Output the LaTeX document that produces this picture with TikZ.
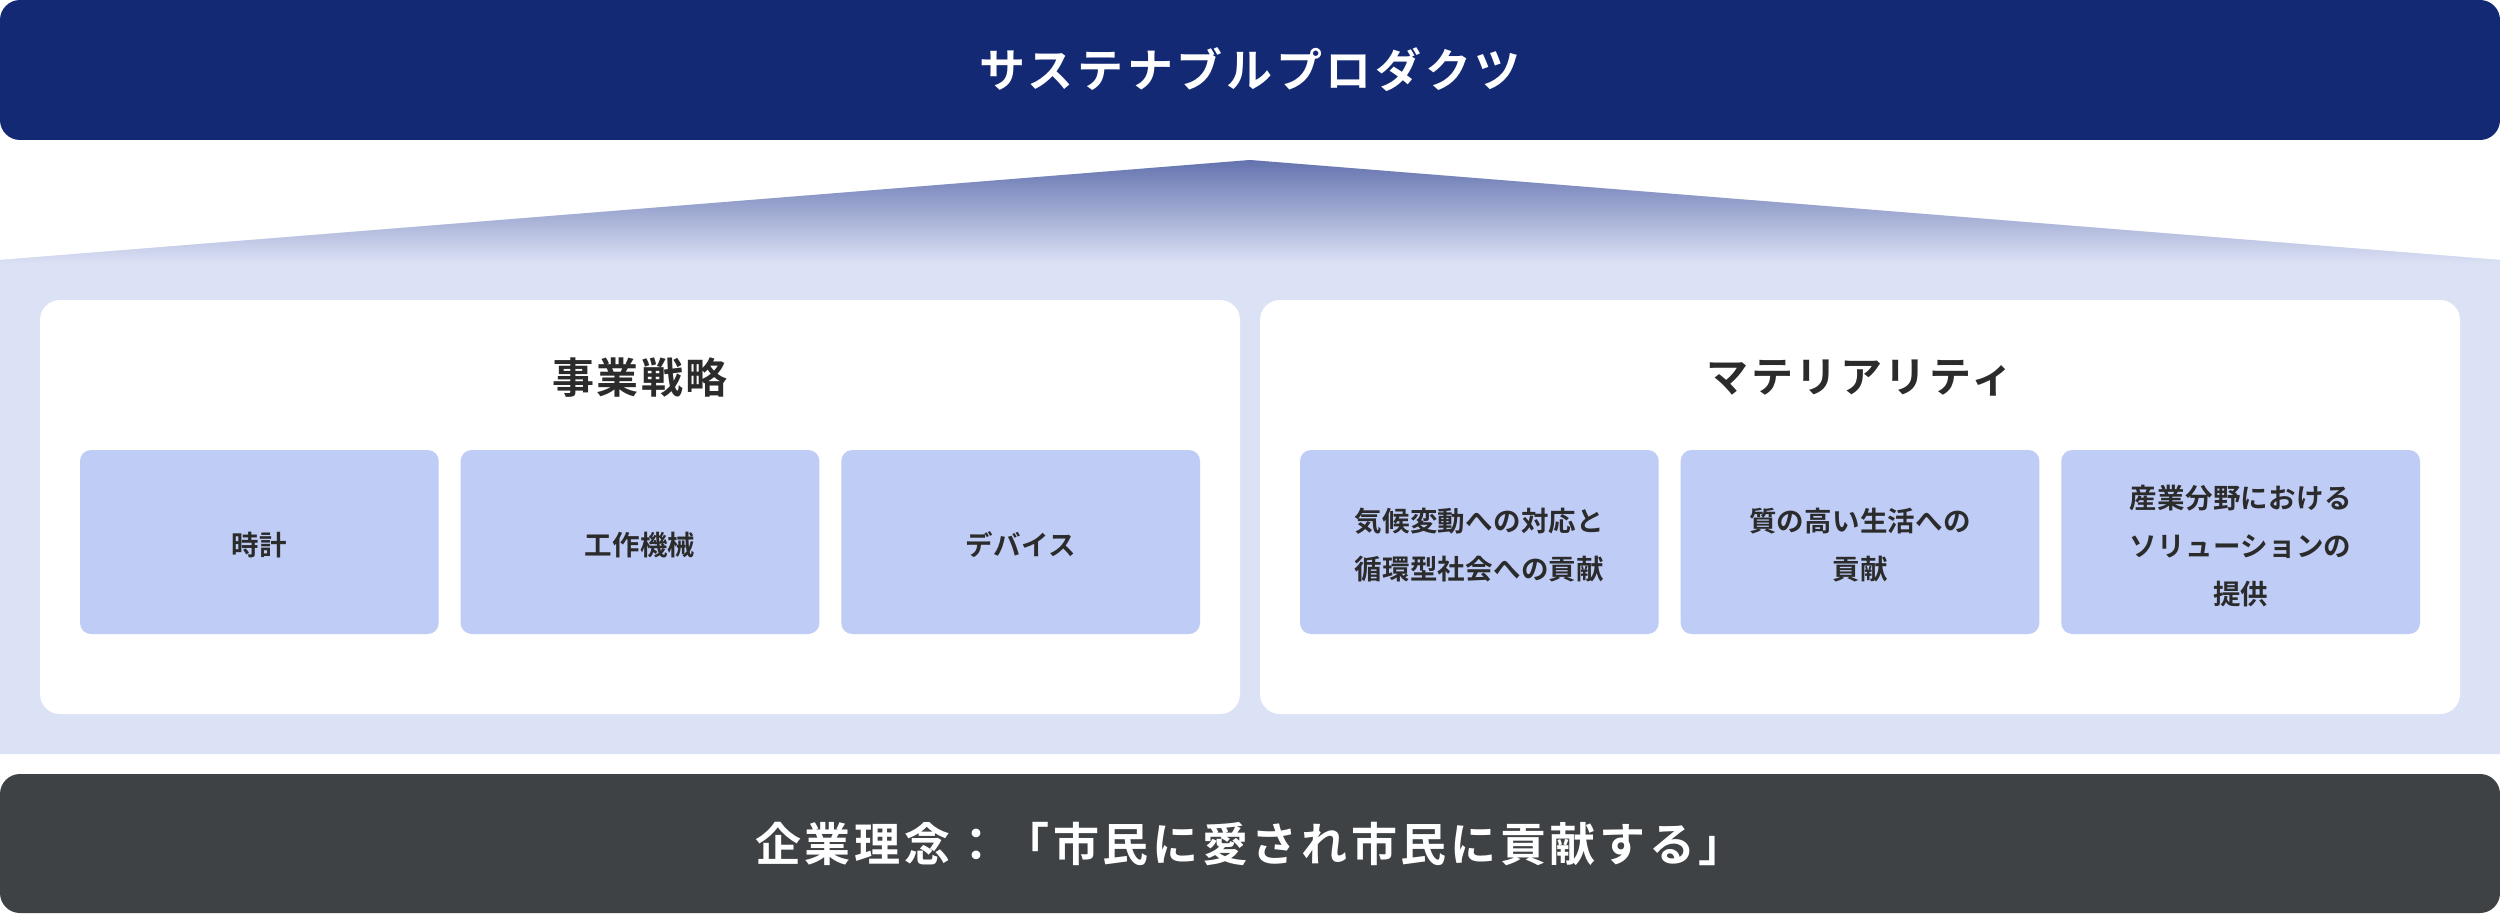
\documentclass[tikz,border=0pt]{standalone}
\usepackage{fontspec}
\setmainfont{Noto Sans CJK JP}[BoldFont={Noto Sans CJK JP Bold}]
\newfontfamily\titlefont{Noto Sans CJK JP Bold}[LetterSpace=8]
\newfontfamily\headfont{Noto Sans CJK JP Bold}[LetterSpace=6]
\newfontfamily\cellfont{Noto Sans CJK JP Bold}[LetterSpace=1]
\definecolor{navy}{RGB}{19,41,116}
\definecolor{band}{RGB}{220,226,245}
\definecolor{roofdark}{RGB}{100,115,175}
\definecolor{roofmid}{RGB}{160,171,211}
\definecolor{cellc}{RGB}{191,204,246}
\definecolor{darkbar}{RGB}{62,66,69}
\definecolor{txt}{RGB}{43,43,43}
\tikzset{
  bar/.style={rounded corners=20pt, inner sep=0pt, minimum width=2500pt, minimum height=140pt, text=white,
    font=\titlefont\fontsize{46}{46}\selectfont},
  panel/.style={fill=white, rounded corners=20pt, inner sep=0pt, minimum width=1200pt, minimum height=414pt},
  headtxt/.style={text=txt, inner sep=0pt, font=\headfont\fontsize{42}{42}\selectfont},
  cell/.style={fill=cellc, rounded corners=11pt, inner sep=0pt, minimum width=358.7pt, minimum height=184pt},
  celltxt/.style={text=txt, align=center, inner sep=0pt, font=\cellfont\fontsize{27.5}{48}\selectfont}
}
\begin{document}
\begin{tikzpicture}[x=1pt,y=-1pt]
\useasboundingbox (0,0) rectangle (2500,915);
\fill[white] (0,0) rectangle (2500,915);
% band with roof
\fill[band] (0,754) -- (0,260) -- (1250,160) -- (2500,260) -- (2500,754) -- cycle;
\begin{scope}
  \clip (0,280) -- (0,260) -- (1250,160) -- (2500,260) -- (2500,280) -- cycle;
  \shade[top color=roofdark, middle color=roofmid, bottom color=band] (0,160) rectangle (2500,264);
\end{scope}
% top and bottom bars
\node[bar, fill=navy] (top) at (1250,70) {サステナブルプロダクツ};
\node[bar, fill=darkbar, minimum height=139pt] (base) at (1250,843.5) {企業理念：「市民に愛され市民に貢献する」};
% panels
\node[panel] (lp) at (640,507) {};
\node[panel] (rp) at (1860,507) {};
\node[headtxt] (lh) at (640,378) {事業戦略};
\node[headtxt] (rh) at (1860,378) {マテリアリティ};
% cells
\node[cell] (c1) at (259.35,542) {};
\node[cell] (c2) at (640,542) {};
\node[cell] (c3) at (1020.65,542) {};
\node[cell] (c4) at (1479.35,542) {};
\node[cell] (c5) at (1860,542) {};
\node[cell] (c6) at (2240.65,542) {};
\node[celltxt] (t1) at ([yshift=-3pt]c1.center) {時計};
\node[celltxt] (t2) at ([yshift=-3pt]c2.center) {工作機械};
\node[celltxt] (t3) at ([yshift=-3pt]c3.center) {デバイス};
\node[celltxt] (t4) at ([yshift=-3pt]c4.center) {気候変動への対応と\\循環型社会への貢献};
\node[celltxt] (t5) at ([yshift=-3pt]c5.center) {質の高い生活への\\貢献};
\node[celltxt] (t6) at ([yshift=-4pt]c6.center) {産業分野における\\ソリューションの\\提供};
\end{tikzpicture}
\end{document}
